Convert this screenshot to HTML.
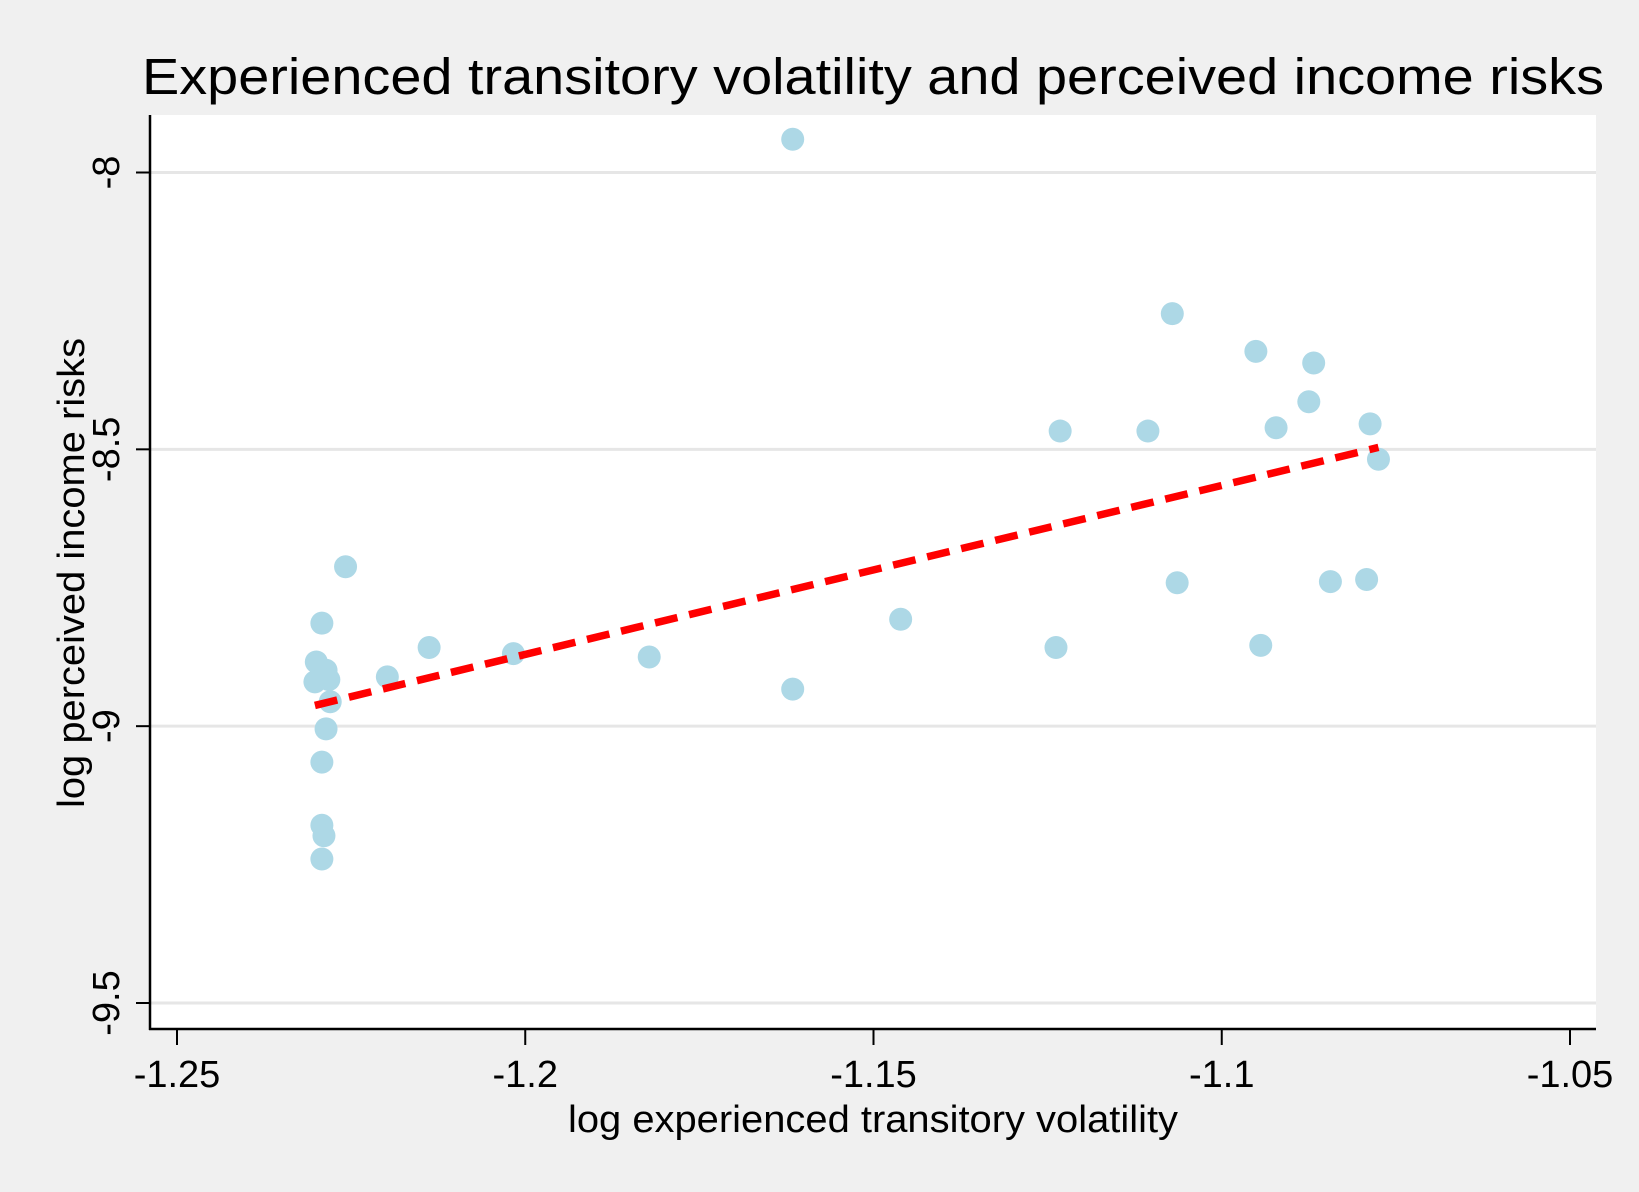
<!DOCTYPE html>
<html><head><meta charset="utf-8"><style>
html,body{margin:0;padding:0;background:#f0f0f0;}
svg{display:block;font-family:"Liberation Sans",Arial,sans-serif;}
</style></head><body>
<svg id="chart" width="1639" height="1192" viewBox="0 0 1639 1192" xmlns="http://www.w3.org/2000/svg">
<rect width="1639" height="1192" fill="#f0f0f0"/>
<rect x="150" y="115" width="1446" height="914" fill="#ffffff"/>
<text x="873" y="94" font-size="51" text-anchor="middle" textLength="1462" lengthAdjust="spacingAndGlyphs">Experienced transitory volatility and perceived income risks</text>
<g id="grid"></g>
<g id="marks"></g>
<g id="axes"></g>
<text x="873" y="1132" font-size="38" text-anchor="middle" textLength="610" lengthAdjust="spacingAndGlyphs">log experienced transitory volatility</text>
<text transform="translate(84,573) rotate(-90)" font-size="38" text-anchor="middle" textLength="470" lengthAdjust="spacingAndGlyphs">log perceived income risks</text>
</svg>
<script>
const xVals = [-1.1616,-1.1071,-1.0951,-1.0868,-1.0875,-1.1232,-1.1106,-1.0922,-1.0787,-1.0775,-1.2258,-1.1064,-1.0844,-1.0792,-1.1461,-1.2292,-1.2138,-1.1238,-1.0944,-1.2017,-1.1822,-1.2300,-1.2286,-1.2198,-1.2302,-1.2282,-1.2280,-1.1616,-1.2286,-1.2292,-1.2292,-1.2289,-1.2292];
const yVals = [-7.94,-8.255,-8.323,-8.344,-8.414,-8.467,-8.467,-8.461,-8.454,-8.518,-8.712,-8.741,-8.739,-8.735,-8.807,-8.814,-8.858,-8.858,-8.854,-8.869,-8.875,-8.884,-8.899,-8.911,-8.920,-8.916,-8.956,-8.933,-9.005,-9.065,-9.179,-9.198,-9.240];
const xTicks = [-1.25,-1.2,-1.15,-1.1,-1.05];
const xTickLabels = ["-1.25","-1.2","-1.15","-1.1","-1.05"];
const yTicks = [-8,-8.5,-9,-9.5];
const yTickLabels = ["-8","-8.5","-9","-9.5"];
const fitSlope = [3.052];
const fitIntercept = [-5.208];

const NS = "http://www.w3.org/2000/svg";
function X(v){ return 177 + (v + 1.25) / 0.2 * 1393; }
function Y(v){ return 172.5 + (-8 - v) / 1.5 * 830.5; }
function mk(tag, attrs, parent){ const e=document.createElementNS(NS,tag); for(const k in attrs) e.setAttribute(k,attrs[k]); parent.appendChild(e); return e; }
const grid=document.getElementById('grid'), marks=document.getElementById('marks'), axes=document.getElementById('axes');

yTicks.forEach((t,i)=>{
  const g=mk('line',{x1:150,x2:1596,y1:Y(t),y2:Y(t),stroke:'#e6e6e6','stroke-width':3},grid);
  
  
  const tk=mk('line',{x1:136,x2:150,y1:Y(t),y2:Y(t),stroke:'#000','stroke-width':2},axes);
  
  
  const lb=mk('text',{transform:`translate(119,${Y(t)}) rotate(-90)`,'font-size':38,'text-anchor':'middle'},axes);
  lb.textContent=yTickLabels[i];
  
  
});
xTicks.forEach((t,i)=>{
  const tk=mk('line',{x1:X(t),x2:X(t),y1:1029,y2:1045,stroke:'#000','stroke-width':2},axes);
  
  
  const lb=mk('text',{x:X(t),y:1087,'font-size':38,'text-anchor':'middle'},axes);
  lb.textContent=xTickLabels[i];
  
  
});
const ya=mk('line',{x1:150,x2:150,y1:115,y2:1030,stroke:'#000','stroke-width':2.5},axes);


const xa=mk('line',{x1:149,x2:1596,y1:1029,y2:1029,stroke:'#000','stroke-width':2.5},axes);



xVals.forEach((xv,i)=>{
  const c=mk('circle',{cx:X(xv),cy:Y(yVals[i]),r:11.5,fill:'#add8e6'},marks);
  
  
});
const xmin=Math.min(...xVals), xmax=Math.max(...xVals);
const fl=mk('line',{x1:X(xmin),y1:Y(fitIntercept[0]+fitSlope[0]*xmin),x2:X(xmax),y2:Y(fitIntercept[0]+fitSlope[0]*xmax),stroke:'#ff0000','stroke-width':7.5,'stroke-dasharray':'23 12'},marks);


</script>
</body></html>
